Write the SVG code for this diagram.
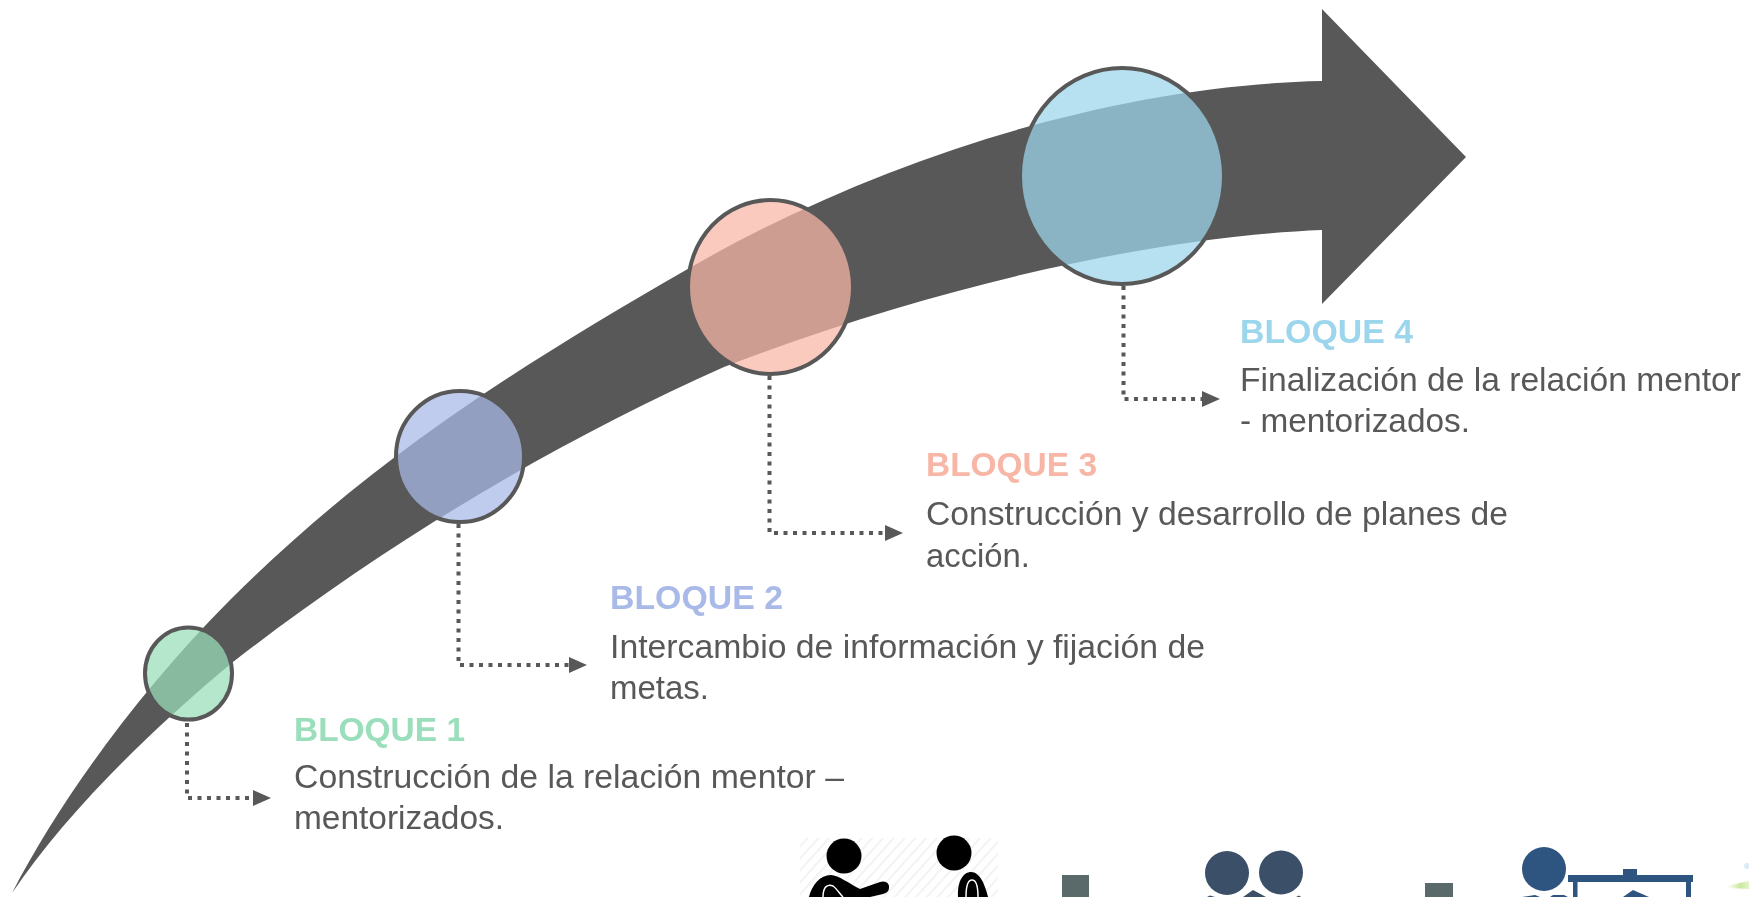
<svg xmlns="http://www.w3.org/2000/svg" width="1749" height="897" viewBox="0 0 1749 897">
<style>
.h{font-family:"Liberation Sans",Arial,sans-serif;font-weight:700;font-size:33px}
.b{font-family:"Liberation Sans",Arial,sans-serif;font-size:34px;fill:#595959}
.c{stroke:#595959;stroke-width:4;fill-opacity:.73}
.d{fill:none;stroke:#595959;stroke-width:4;stroke-dasharray:4 5.500;marker-end:url(#ah)}
</style>
<defs>
<marker id="ah" markerUnits="userSpaceOnUse" markerWidth="20" markerHeight="18" refX="1" refY="9" orient="auto"><path d="M0,1 L18,9 L0,17Z" fill="#595959"/></marker>
<pattern id="hatch" patternUnits="userSpaceOnUse" width="8" height="8" patternTransform="rotate(-48)"><rect width="8" height="8" fill="#fff"/><rect width="8" height="2" fill="#f3f3f3"/></pattern>
<linearGradient id="gl" x1="0" x2="1" y1="0" y2="0"><stop offset="0" stop-color="#dff2c0" stop-opacity="0"/><stop offset=".6" stop-color="#c9e89a"/><stop offset="1" stop-color="#e4f4cc"/></linearGradient>
<filter id="soft" x="-5%" y="-5%" width="110%" height="110%"><feGaussianBlur stdDeviation=".6"/></filter>
</defs>
<rect width="1749" height="897" fill="#fff"/>
<g filter="url(#soft)">
<g id="arrow"><path fill="#595959" d="M12,893 C60,800 140,690 230,600 C375,455 530,360 686,270 C885,155 1120,85 1322,81 L1322,9 L1466,157 L1322,304 L1322,230 C1170,236 950,280 724,367 C560,440 390,540 233,662 C145,735 65,815 12,893Z"/></g>
<g id="connectors">
<path class="d" d="M187,723 V798 H254"/>
<path class="d" d="M458.500,524 V665 H570"/>
<path class="d" d="M769.500,376 V533 H886"/>
<path class="d" d="M1123.500,286 V399 H1203"/>
</g>
<g id="node-1">
<ellipse class="c" cx="188.500" cy="673.500" rx="43.500" ry="46" fill="#9adebb"/>
<text class="h" x="294" y="741" fill="#9adebb" textLength="171" lengthAdjust="spacingAndGlyphs">BLOQUE 1</text>
<text class="b" x="294" y="788" textLength="550" lengthAdjust="spacingAndGlyphs">Construcción de la relación mentor –</text>
<text class="b" x="294" y="829" textLength="210" lengthAdjust="spacingAndGlyphs">mentorizados.</text>
</g>
<g id="node-2">
<ellipse class="c" cx="460" cy="456.500" rx="64" ry="65.500" fill="#a9b9e8"/>
<text class="h" x="610" y="609" fill="#a9b9e8" textLength="173" lengthAdjust="spacingAndGlyphs">BLOQUE 2</text>
<text class="b" x="610" y="658" textLength="595" lengthAdjust="spacingAndGlyphs">Intercambio de información y fijación de</text>
<text class="b" x="610" y="699" textLength="99" lengthAdjust="spacingAndGlyphs">metas.</text>
</g>
<g id="node-3">
<ellipse class="c" cx="770.500" cy="287" rx="82.500" ry="87" fill="#f8b6a6"/>
<text class="h" x="926" y="476" fill="#f8b6a6" textLength="171" lengthAdjust="spacingAndGlyphs">BLOQUE 3</text>
<text class="b" x="926" y="525" textLength="582" lengthAdjust="spacingAndGlyphs">Construcción y desarrollo de planes de</text>
<text class="b" x="926" y="567" textLength="104" lengthAdjust="spacingAndGlyphs">acción.</text>
</g>
<g id="node-4">
<ellipse class="c" cx="1122" cy="176" rx="102" ry="108" fill="#9cd6ec"/>
<text class="h" x="1240" y="343" fill="#9cd6ec" textLength="173" lengthAdjust="spacingAndGlyphs">BLOQUE 4</text>
<text class="b" x="1240" y="391" textLength="501" lengthAdjust="spacingAndGlyphs">Finalización de la relación mentor</text>
<text class="b" x="1240" y="432" textLength="230" lengthAdjust="spacingAndGlyphs">- mentorizados.</text>
</g>
<g id="icon-1">
<rect x="800" y="838" width="198" height="59" fill="url(#hatch)"/>
<circle cx="844" cy="856" r="17.500"/><circle cx="954" cy="853" r="17.500"/>
<path d="M809,897 C812,885 820,875 831,875 C838,875 850,884 860,889 L880,882 C886,880 890,884 889,888 C889,891 887,893 883,894 L870,897Z"/>
<path d="M958,897 C957,880 964,872 971,872 C980,872 985,885 988,897Z"/>
<path d="M823,897 C823,886 828,884 833,886 C837,889 840,894 843,897" fill="none" stroke="#fff" stroke-width="1.500"/>
<path d="M966,897 C966,884 969,880 972,880 C976,880 978,886 978,897" fill="none" stroke="#fff" stroke-width="1.500"/>
</g>
<rect id="square-1" x="1062" y="875" width="27" height="22" fill="#5a6b6b"/>
<g id="icon-2" fill="#3a5068">
<circle cx="1227" cy="873" r="22"/><circle cx="1281" cy="872.500" r="22"/>
<path d="M1243,897 L1253,890 L1266,897Z"/>
<path d="M1207,897 L1210,895.500 L1215,897Z M1296,897 L1299,895.500 L1301,897Z"/>
</g>
<rect id="square-2" x="1425" y="883" width="28" height="14" fill="#5a6b6b"/>
<g id="icon-3" fill="#2f5480">
<circle cx="1544" cy="869" r="22"/>
<path d="M1522,897 L1535,895 L1540,897Z M1550,897 L1553,895 L1564,895 L1568,897Z"/>
<rect x="1568" y="875" width="125" height="7"/>
<rect x="1623" y="869" width="14" height="6"/>
<rect x="1573" y="882" width="4.500" height="15"/>
<rect x="1686" y="882" width="5" height="15"/>
<path d="M1623,897 L1633,890 L1649,897Z"/>
</g>
<g id="glow">
<path d="M1726,886 L1749,881 L1749,889 L1728,888Z" fill="url(#gl)"/>
<ellipse cx="1747" cy="866" rx="3" ry="3" fill="#d7ecf7"/>
</g>
</g>
</svg>
